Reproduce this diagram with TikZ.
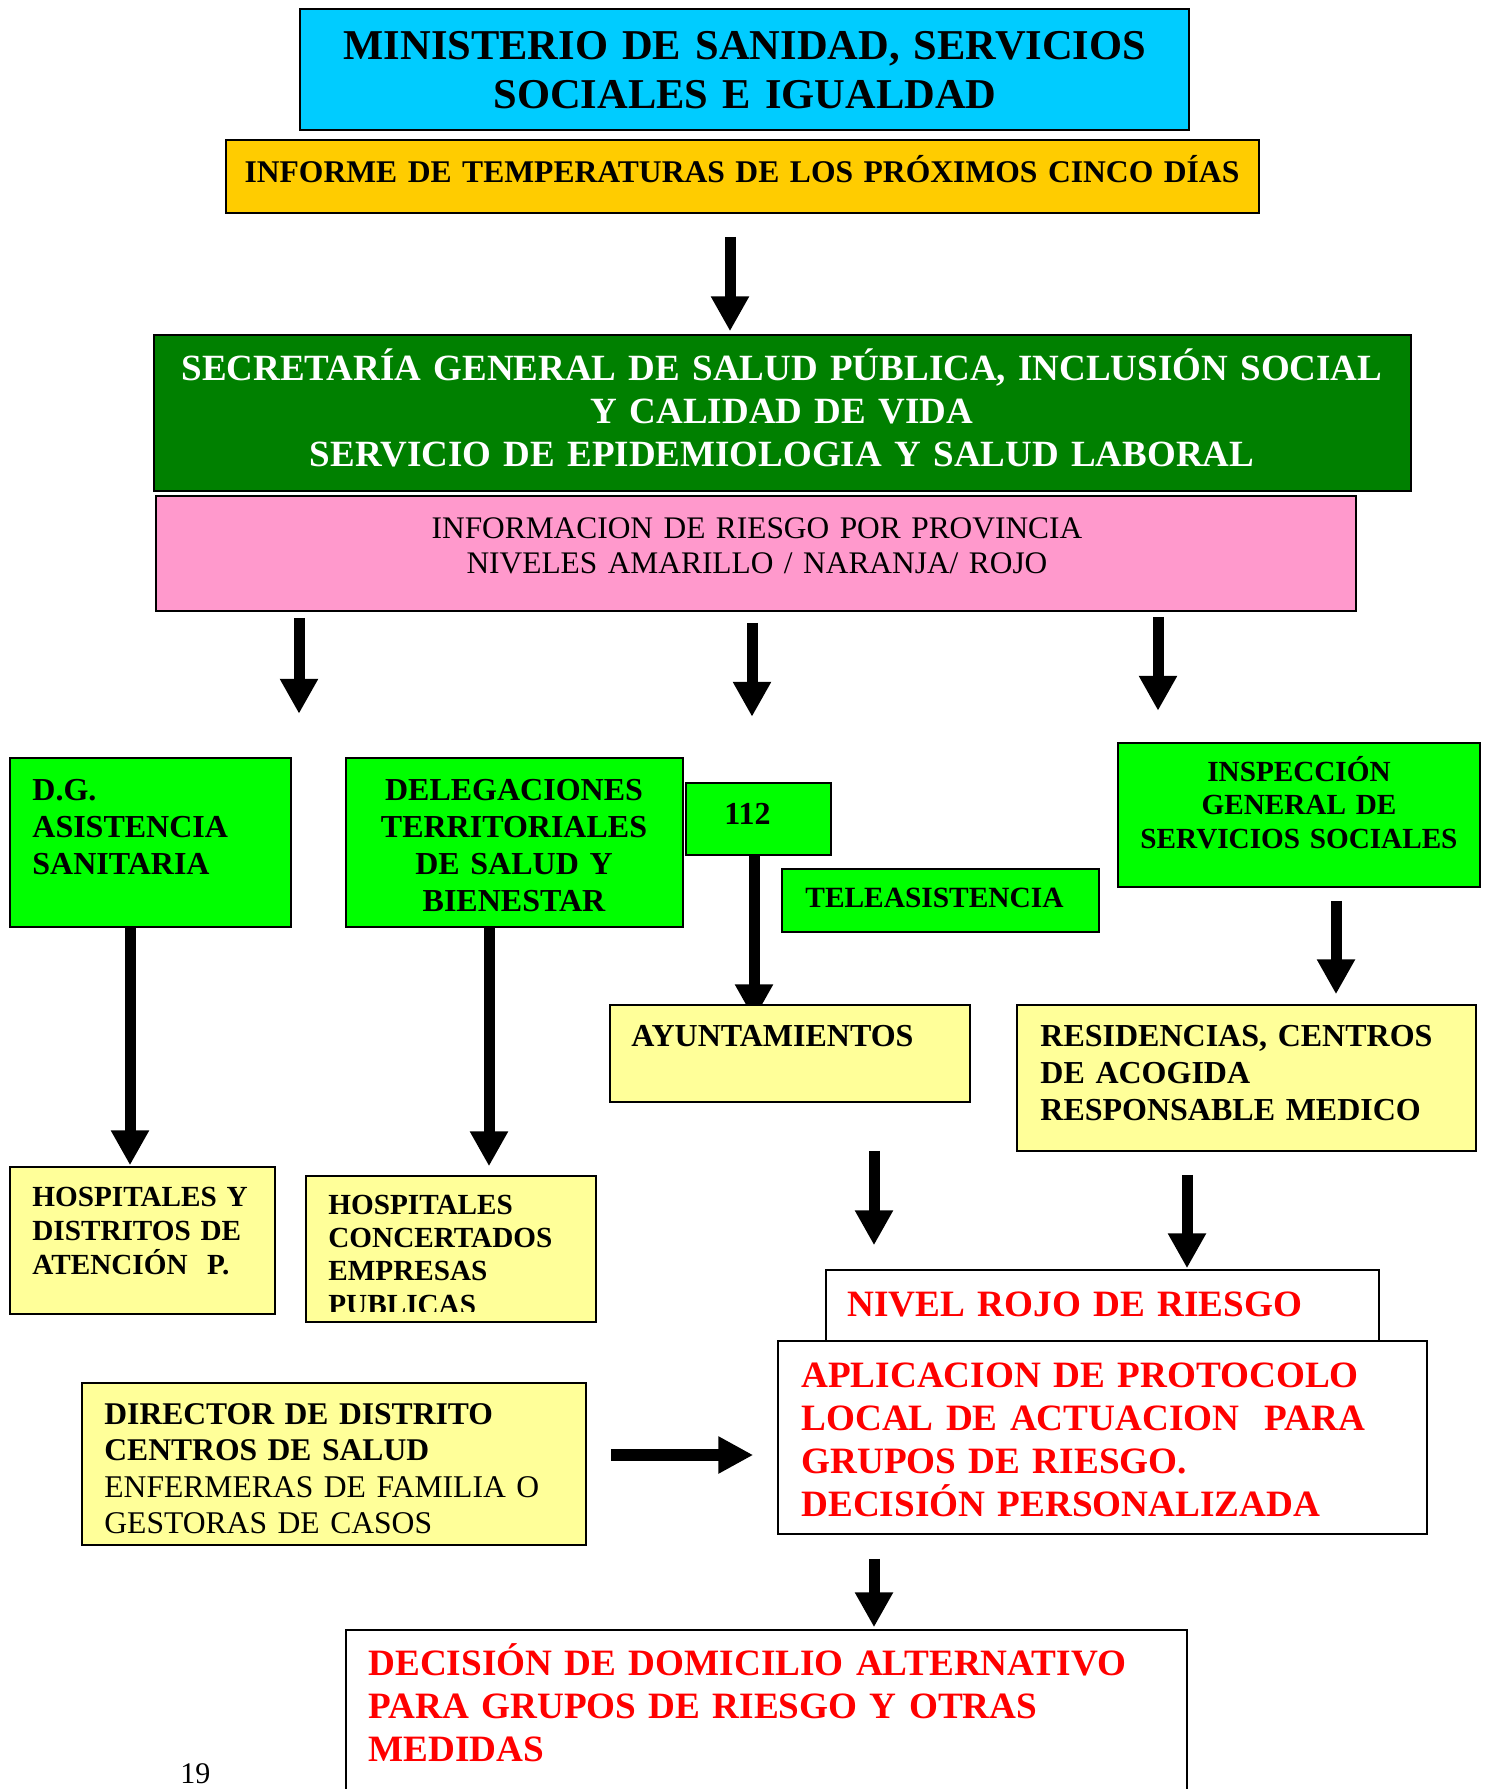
\documentclass[tikz,border=0pt]{standalone}
\usepackage{fontspec}
\setmainfont{Liberation Serif}
\usetikzlibrary{arrows.meta,fit,backgrounds}
\definecolor{cyanbox}{RGB}{0,204,255}
\definecolor{orangebox}{RGB}{255,204,0}
\definecolor{dkgreen}{RGB}{0,128,0}
\definecolor{pinkbox}{RGB}{255,153,204}
\definecolor{greenbox}{RGB}{0,255,0}
\definecolor{yellowbox}{RGB}{255,255,153}
\definecolor{redtext}{RGB}{255,0,0}
\begin{document}
\begin{tikzpicture}[x=0.5pt,y=-0.5pt,
  box/.style={draw=black,line width=0.75pt,inner sep=0pt},
  arr/.style={line width=5.5pt,-{Triangle[width=18pt,length=17.5pt]}},
  harr/.style={line width=6pt,-{Triangle[width=17.5pt,length=17.5pt]}},
  tl/.style={inner sep=0pt,anchor=base west,text width=600pt,align=left},
  tc/.style={inner sep=0pt,anchor=base,text width=700pt,align=center},
  fmain/.style={font=\fontsize{16}{18.5}\selectfont\bfseries},
  fred/.style={text=redtext,font=\fontsize{18.6}{21.5}\selectfont\bfseries},
]
\useasboundingbox (0,0) rectangle (1487,1789);
\clip (0,0) rectangle (1487,1789);

% boxes
\node[box,fill=cyanbox,fit={(300,9) (1189,130)}] (min) {};
\node[box,fill=orangebox,fit={(226,140) (1259,213)}] (inf) {};
\node[box,fill=dkgreen,fit={(154,335) (1411,491)}] (sec) {};
\node[box,fill=pinkbox,fit={(156,496) (1356,611)}] (pink) {};
\node[box,fill=greenbox,fit={(10,758) (291,927)}] (dg) {};
\node[box,fill=greenbox,fit={(346,758) (683,927)}] (del) {};
\node[box,fill=greenbox,fit={(686,783) (831,855)}] (n112) {};
\node[box,fill=greenbox,fit={(782,869) (1099,932)}] (tele) {};
\node[box,fill=greenbox,fit={(1118,743) (1480,887)}] (insp) {};
\node[box,fill=yellowbox,fit={(10,1167) (275,1314)}] (hos) {};
\node[box,fill=yellowbox,fit={(306,1176) (596,1322)}] (con) {};
\node[box,fill=yellowbox,fit={(610,1005) (970,1102)}] (ayu) {};
\node[box,fill=yellowbox,fit={(1017,1005) (1476,1151)}] (res) {};
\node[box,fill=white,fit={(826,1270) (1379,1341)}] (niv) {};
\node[box,fill=white,fit={(778,1341) (1427,1534)}] (apl) {};
\node[box,fill=yellowbox,fit={(82,1383) (586,1545)}] (dir) {};
\node[box,fill=white,fit={(346,1630) (1187,1820)}] (dec) {};

% texts
\node[tc,font=\fontsize{21.25}{24.5}\selectfont\bfseries] (tmin) at (745,59)
  {MINISTERIO DE SANIDAD, SERVICIOS\\SOCIALES E IGUALDAD};
\node[tc,font=\fontsize{15.8}{18}\selectfont\bfseries] (tinf) at (742,182) {INFORME DE TEMPERATURAS DE LOS PRÓXIMOS CINCO DÍAS};
\node[tc,text=white,font=\fontsize{18.5}{21.5}\selectfont\bfseries] (tsec) at (782,380)
  {SECRETARÍA GENERAL DE SALUD PÚBLICA, INCLUSIÓN SOCIAL\\Y CALIDAD DE VIDA\\SERVICIO DE EPIDEMIOLOGIA Y SALUD LABORAL};
\node[tc,font=\fontsize{15.7}{17.5}\selectfont] (tpink) at (757,538)
  {INFORMACION DE RIESGO POR PROVINCIA\\NIVELES AMARILLO / NARANJA/ ROJO};
\node[tl,fmain] (tdg) at (32,800) {D.G.\\ASISTENCIA\\SANITARIA};
\node[tc,fmain] (tdel) at (514,800) {DELEGACIONES\\TERRITORIALES\\DE SALUD Y\\BIENESTAR};
\node[tl,fmain] (t112) at (724,824) {112};
\node[tl,font=\fontsize{14.7}{17}\selectfont\bfseries] (ttele) at (805,907) {TELEASISTENCIA};
\node[tc,font=\fontsize{14.6}{16.8}\selectfont\bfseries] (tinsp) at (1299,781)
  {INSPECCIÓN\\GENERAL DE\\SERVICIOS SOCIALES};
\node[tl,font=\fontsize{14.6}{17}\selectfont\bfseries] (thos) at (32,1206)
  {HOSPITALES Y\\DISTRITOS DE\\ATENCIÓN\ \ P.};
\begin{scope}
\clip (306,1176) rectangle (596,1311);
\node[tl,font=\fontsize{14.6}{16.7}\selectfont\bfseries] (tcon) at (328,1214)
  {HOSPITALES\\CONCERTADOS\\EMPRESAS\\PUBLICAS};
\end{scope}
\node[tl,fmain] (tayu) at (631,1046) {AYUNTAMIENTOS};
\node[tl,fmain] (tres) at (1040,1046) {RESIDENCIAS, CENTROS\\DE ACOGIDA\\RESPONSABLE MEDICO};
\node[tl,fred] (tniv) at (847,1316) {NIVEL ROJO DE RIESGO};
\node[tl,fred] (tapl) at (801,1387)
  {APLICACION DE PROTOCOLO\\LOCAL DE ACTUACION\ \ PARA\\GRUPOS DE RIESGO.\\DECISIÓN PERSONALIZADA};
\node[tl,font=\fontsize{15.8}{18.25}\selectfont] (tdir) at (104,1424)
  {\textbf{DIRECTOR DE DISTRITO}\\\textbf{CENTROS DE SALUD}\\ENFERMERAS DE FAMILIA O\\GESTORAS DE CASOS};
\node[tl,fred] (tdec) at (368,1675)
  {DECISIÓN DE DOMICILIO ALTERNATIVO\\PARA GRUPOS DE RIESGO Y OTRAS\\MEDIDAS};
\node[tl,font=\fontsize{15}{18}\selectfont] (tpage) at (180,1783) {19};

% connectors
\draw[arr] ([shift={(-12.5,23)}]inf.south) -- ([shift={(-52.5,-3)}]sec.north);
\draw[arr] ([shift={(-457,6)}]pink.south) -- ([shift={(-457,102)}]pink.south);
\draw[arr] ([shift={(-4,11)}]pink.south) -- ([shift={(-4,105)}]pink.south);
\draw[arr] ([shift={(402,5)}]pink.south) -- ([shift={(402,99)}]pink.south);
\draw[arr] ([shift={(-20.5,0)}]dg.south) -- ([shift={(-12.5,-1)}]hos.north);
\draw[arr] ([shift={(-25.5,0)}]del.south) -- ([shift={(38,-9)}]con.north);
\begin{scope}[on background layer]
\draw[arr] ([shift={(-4.5,0)}]n112.south) -- ([shift={(-36,15)}]ayu.north);
\end{scope}
\draw[arr] ([shift={(37,13)}]insp.south) -- ([shift={(89.5,-10)}]res.north);
\draw[arr] ([shift={(84,48)}]ayu.south) -- ([shift={(-228.5,-24)}]niv.north);
\draw[arr] ([shift={(-59.5,23)}]res.south) -- ([shift={(84.5,-1)}]niv.north);
\draw[harr] ([shift={(24,-9)}]dir.east) -- ([shift={(-24,17.5)}]apl.west);
\draw[arr] ([shift={(-228.5,24)}]apl.south) -- ([shift={(107.5,-2)}]dec.north);
\end{tikzpicture}
\end{document}
